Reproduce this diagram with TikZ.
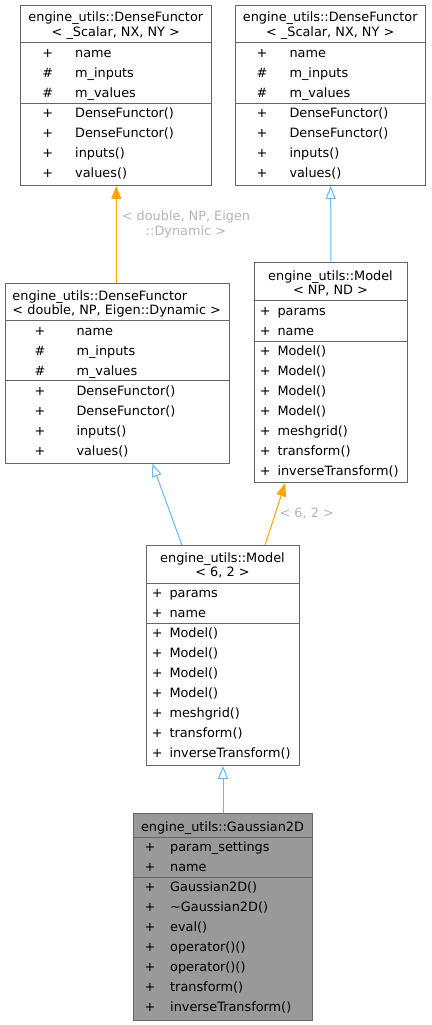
\documentclass[tikz,border=0pt]{standalone}
\usepackage{fontspec}
\setmainfont{DejaVu Sans}
\usetikzlibrary{arrows.meta,calc}
\definecolor{edgeorange}{HTML}{FFA500}
\definecolor{edgeblue}{HTML}{63B8FF}
\definecolor{boxline}{HTML}{666666}
\definecolor{lbl}{HTML}{B4B4B4}
\definecolor{gfill}{HTML}{999999}
\newcommand\clsbox[6]{% name, x1,y1,x2,y2, fill
  \node[cls, fill=#6, anchor=north west, minimum width=#4-#2, minimum height=#5-#3] (#1) at (#2,#3) {};}
\newcommand\sep[2]{% box, y
  \draw[sepline] (#1.west |- 0,#2) -- (#1.east |- 0,#2);}
\newcommand\mem[6]{% id, xsym, xtext, y, sym, text
  \node[ctxt] (#1s) at (#2,#4) {#5};
  \node[txt] (#1t) at (#3,#4) {#6};}
\begin{document}
\begin{tikzpicture}[x=1pt,y=-1pt,
  cls/.style={draw=boxline, line width=1pt, inner sep=0pt},
  sepline/.style={draw=boxline, line width=1pt},
  txt/.style={inner sep=0pt, font=\fontsize{12.85}{14}\selectfont, text height=11.5pt, text depth=1pt, anchor=west},
  ctxt/.style={txt, anchor=center},
  elabel/.style={ctxt, text=lbl},
  inh/.style={draw=edgeblue, line width=1pt, -{Triangle[open,length=13pt,width=10pt]}},
  tmpl/.style={draw=edgeorange, line width=1pt, -{Triangle[length=13pt,width=10pt]}}]
\useasboundingbox (0,0) rectangle (431,1025);

% ---- A : DenseFunctor<_Scalar,NX,NY> (left)
\clsbox{A}{20.3}{4.7}{211.3}{185}{white}
\sep{A}{42.7}\sep{A}{103.3}
\node[ctxt] (At1) at (115.8,16.7) {engine\_utils::DenseFunctor};
\node[ctxt] (At2) at (115.8,31.5) {< \_Scalar, NX, NY >};
\mem{A1}{47.7}{75}{52.7}{+}{name}
\mem{A2}{47.7}{75}{72.7}{\#}{m\_inputs}
\mem{A3}{47.7}{75}{92.5}{\#}{m\_values}
\mem{A4}{47.7}{75}{112.5}{+}{DenseFunctor()}
\mem{A5}{47.7}{75}{132.5}{+}{DenseFunctor()}
\mem{A6}{47.7}{75}{152.5}{+}{inputs()}
\mem{A7}{47.7}{75}{172.5}{+}{values()}

% ---- B : DenseFunctor<_Scalar,NX,NY> (right)
\clsbox{B}{235}{4.7}{425.3}{185}{white}
\sep{B}{42.7}\sep{B}{103.3}
\node[ctxt] (Bt1) at (330.2,16.7) {engine\_utils::DenseFunctor};
\node[ctxt] (Bt2) at (330.2,31.5) {< \_Scalar, NX, NY >};
\mem{B1}{262}{289.3}{52.7}{+}{name}
\mem{B2}{262}{289.3}{72.7}{\#}{m\_inputs}
\mem{B3}{262}{289.3}{92.5}{\#}{m\_values}
\mem{B4}{262}{289.3}{112.5}{+}{DenseFunctor()}
\mem{B5}{262}{289.3}{132.5}{+}{DenseFunctor()}
\mem{B6}{262}{289.3}{152.5}{+}{inputs()}
\mem{B7}{262}{289.3}{172.5}{+}{values()}

% ---- C : DenseFunctor<double,NP,Eigen::Dynamic>
\clsbox{C}{5}{282.7}{229.3}{462.7}{white}
\sep{C}{320.7}\sep{C}{380.3}
\node[txt] (Ct1) at (12.3,295) {engine\_utils::DenseFunctor};
\node[txt] (Ct2) at (12.3,309.3) {< double, NP, Eigen::Dynamic >};
\mem{C1}{40}{76.3}{330}{+}{name}
\mem{C2}{40}{76.3}{350}{\#}{m\_inputs}
\mem{C3}{40}{76.3}{370}{\#}{m\_values}
\mem{C4}{40}{76.3}{390}{+}{DenseFunctor()}
\mem{C5}{40}{76.3}{410}{+}{DenseFunctor()}
\mem{C6}{40}{76.3}{430}{+}{inputs()}
\mem{C7}{40}{76.3}{450}{+}{values()}

% ---- D : Model<NP,ND>
\clsbox{D}{254.3}{261.7}{406.7}{482.3}{white}
\sep{D}{300.7}\sep{D}{341}
\node[ctxt] (Dt1) at (330.5,275) {engine\_utils::Model};
\node[ctxt] (Dt2) at (330.5,289.3) {< NP, ND >};
\mem{D1}{265.3}{277.3}{310}{+}{params}
\mem{D2}{265.3}{277.3}{330}{+}{name}
\mem{D3}{265.3}{277.3}{350}{+}{Model()}
\mem{D4}{265.3}{277.3}{370}{+}{Model()}
\mem{D5}{265.3}{277.3}{390}{+}{Model()}
\mem{D6}{265.3}{277.3}{410}{+}{Model()}
\mem{D7}{265.3}{277.3}{430}{+}{meshgrid()}
\mem{D8}{265.3}{277.3}{450}{+}{transform()}
\mem{D9}{265.3}{277.3}{470}{+}{inverseTransform()}

% ---- E : Model<6,2>
\clsbox{E}{146.3}{545}{298.7}{765}{white}
\sep{E}{583.3}\sep{E}{623.3}
\node[ctxt] (Et1) at (222.5,557.3) {engine\_utils::Model};
\node[ctxt] (Et2) at (222.5,571.7) {< 6, 2 >};
\mem{E1}{157.3}{169.3}{592.7}{+}{params}
\mem{E2}{157.3}{169.3}{612.7}{+}{name}
\mem{E3}{157.3}{169.3}{632.7}{+}{Model()}
\mem{E4}{157.3}{169.3}{652.7}{+}{Model()}
\mem{E5}{157.3}{169.3}{672.7}{+}{Model()}
\mem{E6}{157.3}{169.3}{692.7}{+}{Model()}
\mem{E7}{157.3}{169.3}{712.7}{+}{meshgrid()}
\mem{E8}{157.3}{169.3}{732.7}{+}{transform()}
\mem{E9}{157.3}{169.3}{752.7}{+}{inverseTransform()}

% ---- F : Gaussian2D
\clsbox{F}{132.7}{813.3}{312.3}{1020}{gfill}
\sep{F}{837.3}\sep{F}{877.3}
\node[ctxt] (Ft1) at (222.5,826.7) {engine\_utils::Gaussian2D};
\mem{F1}{150}{170}{846.7}{+}{param\_settings}
\mem{F2}{150}{170}{866.7}{+}{name}
\mem{F3}{150}{170}{886.7}{+}{Gaussian2D()}
\mem{F4}{150}{170}{906.7}{+}{\textasciitilde Gaussian2D()}
\mem{F5}{150}{170}{926.7}{+}{eval()}
\mem{F6}{150}{170}{946.7}{+}{operator()()}
\mem{F7}{150}{170}{966.7}{+}{operator()()}
\mem{F8}{150}{170}{986.7}{+}{transform()}
\mem{F9}{150}{170}{1006.7}{+}{inverseTransform()}

% ---- connectors
\draw[tmpl] (C.north -| A.south) -- (A.south);
\node[elabel] (L1a) at (186,215.7) {< double, NP, Eigen};
\node[elabel] (L1b) at (186,230) {::Dynamic >};
\draw[inh] (D.north) -- (B.south);
\draw[inh] ($(E.north west)!0.232!(E.north east)$) -- ($(C.south west)!0.654!(C.south east)$);
\draw[tmpl] ($(E.north west)!0.774!(E.north east)$) -- ($(D.south west)!0.2015!(D.south east)$);
\node[elabel] (L2) at (306.7,512.3) {< 6, 2 >};
\draw[inh] (F.north) -- (E.south);
\end{tikzpicture}
\end{document}
